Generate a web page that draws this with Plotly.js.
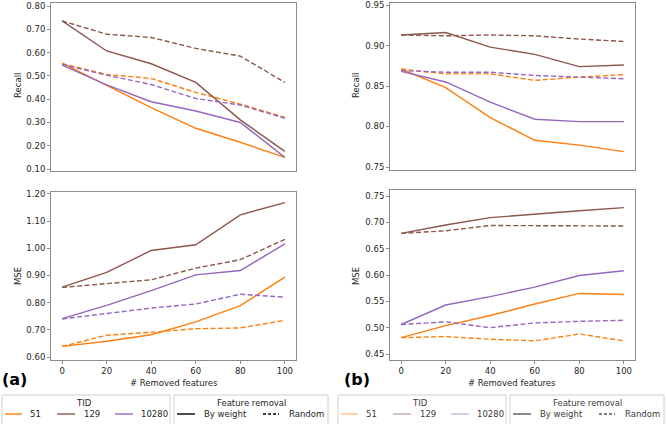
<!DOCTYPE html>
<html>
<head>
<meta charset="utf-8">
<script src="https://cdn.plot.ly/plotly-3.0.1.min.js"></script>
<style>html,body{margin:0;padding:0;background:#fff;}#chart{width:666px;height:424px;}</style>
</head>
<body>
<div id="chart"></div>
<script>
// ---- data ----
const removedFeatures = [0, 20, 40, 60, 80, 100];
const tidLabels = ["51", "129", "10280"];
const removalLabels = ["By weight", "Random"];

// (a) Recall
const recallA_51_weight    = [0.555, 0.461, 0.364, 0.275, 0.215, 0.150];
const recallA_51_random    = [0.552, 0.506, 0.489, 0.429, 0.379, 0.322];
const recallA_129_weight   = [0.736, 0.607, 0.552, 0.472, 0.311, 0.176];
const recallA_129_random   = [0.736, 0.679, 0.665, 0.618, 0.585, 0.472];
const recallA_10280_weight = [0.546, 0.461, 0.389, 0.349, 0.300, 0.150];
const recallA_10280_random = [0.549, 0.503, 0.463, 0.403, 0.375, 0.318];
// (a) MSE
const mseA_51_weight    = [0.639, 0.658, 0.682, 0.729, 0.789, 0.894];
const mseA_51_random    = [0.639, 0.680, 0.691, 0.704, 0.707, 0.735];
const mseA_129_weight   = [0.857, 0.911, 0.992, 1.013, 1.123, 1.168];
const mseA_129_random   = [0.856, 0.869, 0.884, 0.927, 0.958, 1.033];
const mseA_10280_weight = [0.741, 0.790, 0.844, 0.902, 0.918, 1.016];
const mseA_10280_random = [0.740, 0.759, 0.780, 0.795, 0.831, 0.820];
// (b) Recall
const recallB_51_weight    = [0.871, 0.848, 0.811, 0.783, 0.777, 0.769];
const recallB_51_random    = [0.871, 0.865, 0.865, 0.857, 0.861, 0.864];
const recallB_129_weight   = [0.913, 0.916, 0.898, 0.889, 0.874, 0.876];
const recallB_129_random   = [0.913, 0.912, 0.913, 0.912, 0.908, 0.905];
const recallB_10280_weight = [0.868, 0.855, 0.830, 0.809, 0.806, 0.806];
const recallB_10280_random = [0.869, 0.867, 0.867, 0.863, 0.861, 0.859];
// (b) MSE
const mseB_51_weight    = [0.481, 0.504, 0.523, 0.545, 0.565, 0.563];
const mseB_51_random    = [0.481, 0.483, 0.478, 0.475, 0.488, 0.475];
const mseB_129_weight   = [0.679, 0.695, 0.709, 0.716, 0.722, 0.728];
const mseB_129_random   = [0.679, 0.684, 0.694, 0.694, 0.693, 0.693];
const mseB_10280_weight = [0.506, 0.543, 0.559, 0.577, 0.599, 0.608];
const mseB_10280_random = [0.506, 0.511, 0.500, 0.509, 0.512, 0.514];

// tick labels
const xTickVals = [0, 20, 40, 60, 80, 100];
const recallATicks = ["0.10", "0.20", "0.30", "0.40", "0.50", "0.60", "0.70", "0.80"];
const mseATicks = ["0.60", "0.70", "0.80", "0.90", "1.00", "1.10", "1.20"];
const recallBTicks = ["0.75", "0.80", "0.85", "0.90", "0.95"];
const mseBTicks = ["0.45", "0.50", "0.55", "0.60", "0.65", "0.70", "0.75"];

// ---- styling ----
const W = 666, H = 424;
const colors = {"51": "#ff7f0e", "129": "#8c564b", "10280": "#9467bd"};
const fadedColors = {"51": "rgba(255,127,14,0.5)", "129": "rgba(140,86,75,0.5)", "10280": "rgba(148,103,189,0.5)"};
const DASH = "5px,2.5px";
const FONT = "DejaVu Sans, sans-serif";
const FS = 8.5;

function px(x) { return x / W; }
function py(y) { return 1 - y / H; }

const panels = [
  {xa: "x", ya: "y", series: [
    ["51", recallA_51_weight, recallA_51_random],
    ["129", recallA_129_weight, recallA_129_random],
    ["10280", recallA_10280_weight, recallA_10280_random]]},
  {xa: "x2", ya: "y2", series: [
    ["51", mseA_51_weight, mseA_51_random],
    ["129", mseA_129_weight, mseA_129_random],
    ["10280", mseA_10280_weight, mseA_10280_random]]},
  {xa: "x3", ya: "y3", series: [
    ["51", recallB_51_weight, recallB_51_random],
    ["129", recallB_129_weight, recallB_129_random],
    ["10280", recallB_10280_weight, recallB_10280_random]]},
  {xa: "x4", ya: "y4", series: [
    ["51", mseB_51_weight, mseB_51_random],
    ["129", mseB_129_weight, mseB_129_random],
    ["10280", mseB_10280_weight, mseB_10280_random]]}
];

const traces = [];
panels.forEach(p => {
  p.series.forEach(([tid, w, r]) => {
    traces.push({x: removedFeatures, y: r, xaxis: p.xa, yaxis: p.ya, mode: "lines",
      line: {color: colors[tid], width: 1.4, dash: DASH}, showlegend: false, hoverinfo: "skip"});
    traces.push({x: removedFeatures, y: w, xaxis: p.xa, yaxis: p.ya, mode: "lines",
      line: {color: colors[tid], width: 1.4}, showlegend: false, hoverinfo: "skip"});
  });
});

const lineCol = "#8c8c8c";
function xax(domain, anchor, showLabels) {
  return {domain: domain, anchor: anchor, range: [-5, 105], showgrid: false, zeroline: false,
    showline: true, mirror: true, linecolor: lineCol, linewidth: 1,
    tickmode: "array", tickvals: xTickVals, ticktext: xTickVals.map(String),
    ticks: showLabels ? "outside" : "", ticklen: 3, tickcolor: lineCol,
    showticklabels: showLabels, ticklabeloverflow: "allow",
    tickfont: {family: FONT, size: FS, color: "#262626"}};
}
function yax(domain, anchor, range, labels) {
  return {domain: domain, anchor: anchor, range: range, showgrid: false, zeroline: false,
    showline: true, mirror: true, linecolor: lineCol, linewidth: 1,
    tickmode: "array", tickvals: labels.map(Number), ticktext: labels,
    ticks: "outside", ticklen: 3, tickcolor: lineCol, ticklabeloverflow: "allow",
    tickfont: {family: FONT, size: FS, color: "#262626"}};
}

const leftX = [px(51), px(296)];
const rightX = [px(390), px(635)];

const layout = {
  width: W, height: H, margin: {l: 0, r: 0, t: 0, b: 0},
  paper_bgcolor: "#fff", plot_bgcolor: "#fff", showlegend: false,
  xaxis: xax(leftX, "y", false),
  yaxis: yax([py(171), py(3)], "x", [0.0915, 0.813], recallATicks),
  xaxis2: xax(leftX, "y2", true),
  yaxis2: yax([py(360), py(192)], "x2", [0.589, 1.207], mseATicks),
  xaxis3: xax(rightX, "y3", false),
  yaxis3: yax([py(170), py(3)], "x3", [0.7463, 0.9525], recallBTicks),
  xaxis4: xax(rightX, "y4", true),
  yaxis4: yax([py(360), py(190)], "x4", [0.4386, 0.7614], mseBTicks),
  shapes: [], annotations: []
};

function ann(x, y, text, opts) {
  layout.annotations.push(Object.assign({xref: "paper", yref: "paper", x: px(x), y: py(y), text: text,
    showarrow: false, xanchor: "center", yanchor: "middle",
    font: {family: FONT, size: FS, color: "#262626"}}, opts || {}));
}

// axis titles
ann(18, 86, "Recall", {textangle: -90});
ann(18, 276, "MSE", {textangle: -90});
ann(356, 86, "Recall", {textangle: -90});
ann(356, 276, "MSE", {textangle: -90});
ann(174, 383, "# Removed features");
ann(512, 383, "# Removed features");
// panel labels
ann(0, 379, "<b>(a)</b>", {xanchor: "left", font: {family: FONT, size: 16, color: "#000"}});
ann(342, 379, "<b>(b)</b>", {xanchor: "left", font: {family: FONT, size: 16, color: "#000"}});

// legends (drawn)
function legendBox(x0, x1) {
  layout.shapes.push({type: "rect", xref: "paper", yref: "paper", x0: px(x0), x1: px(x1),
    y0: py(432), y1: py(395), line: {color: "#d0d0d0", width: 1}, fillcolor: "#fff", layer: "above"});
}
function legendLine(x0, x1, y, color, dash) {
  layout.shapes.push({type: "line", xref: "paper", yref: "paper", x0: px(x0), x1: px(x1),
    y0: py(y), y1: py(y), line: {color: color, width: 1.4, dash: dash || "solid"}, layer: "above"});
}
function buildLegend(offset, cols, textColor, black) {
  const tc = {color: textColor, family: FONT, size: FS};
  legendBox(offset + 2, offset + 170);
  ann(offset + 84, 403, "TID", {font: tc});
  const itemX = [[5, 22, 28], [57, 75, 82], [115, 133, 139]];
  tidLabels.forEach((t, i) => {
    legendLine(offset + itemX[i][0], offset + itemX[i][1], 414, cols[t]);
    ann(offset + itemX[i][2], 414, t, {xanchor: "left", font: tc});
  });
  legendBox(offset + 174, offset + 328);
  ann(offset + 251, 403, "Feature removal", {font: tc});
  legendLine(offset + 177, offset + 195, 414, black);
  ann(offset + 202, 414, removalLabels[0], {xanchor: "left", font: tc});
  legendLine(offset + 263, offset + 279, 414, black, "3px,2px");
  ann(offset + 287, 414, removalLabels[1], {xanchor: "left", font: tc});
}
buildLegend(0, colors, "#262626", "#000");
buildLegend(336, fadedColors, "#3a3a3a", "rgba(0,0,0,0.65)");

Plotly.newPlot("chart", traces, layout, {staticPlot: true, displayModeBar: false});
</script>
</body>
</html>
